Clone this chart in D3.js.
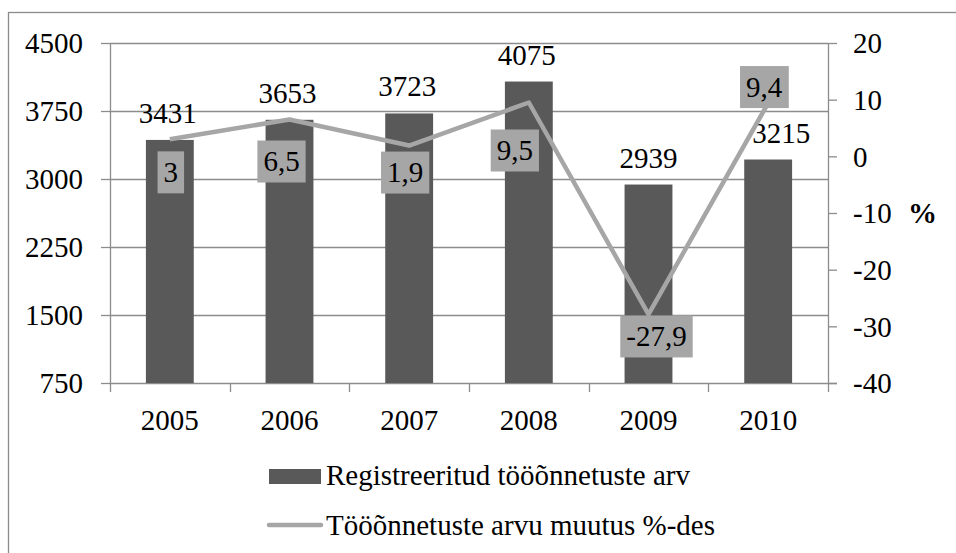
<!DOCTYPE html>
<html>
<head>
<meta charset="utf-8">
<script src="https://cdn.jsdelivr.net/npm/d3@7"></script>
<style>
  html, body { margin: 0; padding: 0; background: #fff; }
  svg { display: block; }
  svg text { font-family: "Liberation Serif", "Times New Roman", serif; fill: #000; }
</style>
</head>
<body>
<svg id="chart" width="956" height="553"></svg>
<script>
// Tööõnnetused Eestis 2005–2010
const years = ["2005", "2006", "2007", "2008", "2009", "2010"];
const accidents = [3431, 3653, 3723, 4075, 2939, 3215];
const changePct = [3, 6.5, 1.9, 9.5, -27.9, 9.4];
const leftTicks = [750, 1500, 2250, 3000, 3750, 4500];
const rightTicks = [-40, -30, -20, -10, 0, 10, 20];
const seriesNames = ["Registreeritud tööõnnetuste arv", "Tööõnnetuste arvu muutus %-des"];

// hand-placed offsets for the labels (dx, dy in px)
const pctLabelShift = [[1, 33], [-8, 42], [-4, 27], [-14, 48], [8, 22], [-4, -16]];
const barLabelShift = [-2, -2, -2, -2, 0, 13];

const W = 956, H = 553;
const plot = { left: 110, right: 828, top: 43, bottom: 383 };
const fontSize = 29;
const serif = "Liberation Serif";

const svg = d3.select("#chart").attr("font-family", serif);

const x = d3.scaleBand().domain(years).range([plot.left, plot.right]).paddingInner(0).paddingOuter(0);
const yL = d3.scaleLinear().domain([750, 4500]).range([plot.bottom, plot.top]);
const yR = d3.scaleLinear().domain([-40, 20]).range([plot.bottom, plot.top]);
const fmt = v => String(v).replace(".", ",");

// outer frame
svg.append("rect")
  .attr("x", 8.5).attr("y", 12.5)
  .attr("width", W + 20).attr("height", H + 20)
  .attr("fill", "none").attr("stroke", "#8c8c8c").attr("stroke-width", 1.3);

// horizontal gridlines (left axis)
svg.append("g").selectAll("line").data(leftTicks.slice(1)).join("line")
  .attr("x1", plot.left).attr("x2", plot.right)
  .attr("y1", d => Math.round(yL(d)) + 0.5).attr("y2", d => Math.round(yL(d)) + 0.5)
  .attr("stroke", "#8c8c8c").attr("stroke-width", 1.3);

function styleAxis(g) {
  g.attr("font-family", serif);
  g.selectAll(".tick line").attr("stroke", "#8c8c8c").attr("stroke-width", 1.3);
  g.selectAll(".tick text").attr("font-size", fontSize).attr("fill", "#000");
}

// left axis
const axL = d3.axisLeft(yL).tickValues(leftTicks).tickFormat(d => String(d)).tickSize(9).tickPadding(18);
const gL = svg.append("g").attr("transform", `translate(${plot.left},0)`).call(axL);
gL.select(".domain").attr("stroke", "#8c8c8c").attr("stroke-width", 1.3).attr("d", `M0.5,${plot.top}V${plot.bottom}`);
styleAxis(gL);
gL.selectAll(".tick text").attr("dy", "0.34em");

// right axis
const axR = d3.axisRight(yR).tickValues(rightTicks).tickFormat(d => String(d)).tickSize(9).tickPadding(16);
const gR = svg.append("g").attr("transform", `translate(${plot.right},0)`).call(axR);
gR.select(".domain").attr("stroke", "#8c8c8c").attr("stroke-width", 1.3).attr("d", `M0.5,${plot.top}V${plot.bottom}`);
styleAxis(gR);
gR.selectAll(".tick text").attr("dy", "0.34em");

// unit label next to the right axis
svg.append("text")
  .attr("x", 908).attr("y", yR(-10)).attr("dy", "0.34em")
  .attr("font-size", fontSize).attr("font-weight", "bold").text("%");

// bottom axis
const axB = d3.axisBottom(x).tickSize(0).tickPadding(26);
const gB = svg.append("g").attr("transform", `translate(0,${plot.bottom})`).call(axB);
gB.select(".domain").attr("stroke", "#8c8c8c").attr("stroke-width", 1.3).attr("d", `M${plot.left},0.5H${plot.right + 9}`);
styleAxis(gB);
// category separators
svg.append("g").selectAll("line").data(years.concat(["end"])).join("line")
  .attr("x1", (d, i) => Math.round(plot.left + i * x.step()) + 0.5)
  .attr("x2", (d, i) => Math.round(plot.left + i * x.step()) + 0.5)
  .attr("y1", plot.bottom).attr("y2", plot.bottom + 9)
  .attr("stroke", "#8c8c8c").attr("stroke-width", 1.3);

// bars
const barW = x.bandwidth() * 0.4;
svg.append("g").selectAll("rect").data(accidents).join("rect")
  .attr("x", (d, i) => x(years[i]) + x.bandwidth() / 2 - barW / 2)
  .attr("width", barW)
  .attr("y", d => yL(d))
  .attr("height", d => plot.bottom - yL(d))
  .attr("fill", "#595959");

// bar value labels
svg.append("g").selectAll("text").data(accidents).join("text")
  .attr("x", (d, i) => x(years[i]) + x.bandwidth() / 2 + barLabelShift[i])
  .attr("y", d => yL(d) - 17)
  .attr("text-anchor", "middle")
  .attr("font-size", fontSize)
  .text(d => d);

// change line
const cx = i => x(years[i]) + x.bandwidth() / 2;
const line = d3.line().x((d, i) => cx(i)).y(d => yR(d));
svg.append("path").datum(changePct)
  .attr("d", line)
  .attr("fill", "none").attr("stroke", "#a6a6a6").attr("stroke-width", 4.5)
  .attr("stroke-linejoin", "round");

// change labels in grey boxes
const pl = svg.append("g").selectAll("g").data(changePct).join("g")
  .attr("transform", (d, i) => `translate(${cx(i) + pctLabelShift[i][0]},${yR(d) + pctLabelShift[i][1]})`);
pl.append("text")
  .attr("text-anchor", "middle").attr("dy", "0.34em")
  .attr("font-size", fontSize)
  .text(d => fmt(d));
pl.each(function () {
  const g = d3.select(this);
  const bb = g.select("text").node().getBBox();
  g.insert("rect", "text")
    .attr("x", bb.x - 6).attr("width", bb.width + 12)
    .attr("y", -21).attr("height", 42)
    .attr("fill", "#a6a6a6");
});

// legend
const lg = svg.append("g");
lg.append("rect").attr("x", 269).attr("y", 469).attr("width", 52).attr("height", 15).attr("fill", "#595959");
lg.append("text").attr("x", 326).attr("y", 485).attr("font-size", fontSize).text(seriesNames[0]);
lg.append("line").attr("x1", 269).attr("x2", 321).attr("y1", 525).attr("y2", 525)
  .attr("stroke", "#a6a6a6").attr("stroke-width", 4.5).attr("stroke-linecap", "round");
lg.append("text").attr("x", 326).attr("y", 535).attr("font-size", fontSize).text(seriesNames[1]);
</script>
</body>
</html>
